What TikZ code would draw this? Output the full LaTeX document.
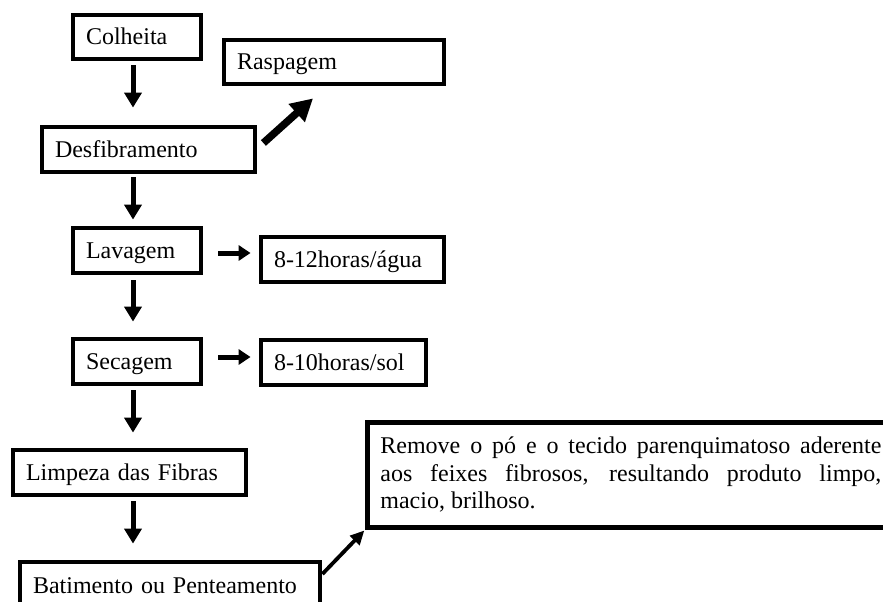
\documentclass[tikz,border=0pt]{standalone}
\usepackage{fontspec}
\setmainfont{Liberation Serif}
\usetikzlibrary{arrows.meta}
\begin{document}
\begin{tikzpicture}[x=1pt,y=-1pt,
  stage/.style={draw, line width=4.8pt, inner xsep=13pt, inner ysep=0pt,
    align=left, text height=16pt, text depth=0pt,
    font=\fontsize{24pt}{27pt}\selectfont},
  flow/.style={line width=5pt, -{Triangle[length=15pt,width=17pt]}},
  side/.style={line width=5pt, -{Triangle[length=12pt,width=15pt]}},
  bigarrow/.style={line width=7.5pt, -{Triangle[length=22pt,width=23pt]}},
  thinarrow/.style={line width=3.8pt, -{Triangle[length=14pt,width=13pt]}}]

\useasboundingbox (0,0) rectangle (883,602);
\fill[white] (0,0) rectangle (883,602);

% main process steps
\node[stage, text width=102pt, minimum height=44pt] (colheita) at (137,37) {Colheita};
\node[stage, text width=194pt, minimum height=44pt] (raspagem) at (334,62) {Raspagem};
\node[stage, text width=187pt, minimum height=45pt] (desfib) at (148.5,149.5) {Desfibramento};
\node[stage, text width=102pt, minimum height=45pt] (lavagem) at (137,250.5) {Lavagem};
\node[stage, text width=157pt, minimum height=45pt] (agua) at (352.5,259.5) {8-12horas/água};
\node[stage, text width=102pt, minimum height=45pt] (secagem) at (137,361.5) {Secagem};
\node[stage, text width=139pt, minimum height=45pt] (sol) at (343.5,362.5) {8-10horas/sol};
\node[stage, text width=207pt, minimum height=45pt] (limpeza) at (129.5,472.5) {Limpeza das Fibras};
\node[stage, text width=274pt, minimum height=46pt] (batimento) at (170,585) {Batimento ou Penteamento};

% description of the beating step
\node[draw, line width=4.8pt, anchor=north west, inner xsep=13pt, inner ysep=0pt,
  minimum height=105pt, text width=501pt, align=justify,
  font=\fontsize{24pt}{27.5pt}\selectfont] (remove) at (365,420)
  {Remove o pó e o tecido parenquimatoso aderente\linebreak
   aos feixes fibrosos, resultando produto limpo,\linebreak
   macio, brilhoso.};

% vertical axis of the main flow
\coordinate (axis) at (133,0);

\draw[flow, shorten <=4pt, shorten >=17pt] (colheita.south -| axis) -- (desfib.north -| axis);
\draw[flow, shorten <=3pt, shorten >=6pt] (desfib.south -| axis) -- (lavagem.north -| axis);
\draw[flow, shorten <=5pt, shorten >=15pt] (lavagem.south -| axis) -- (secagem.north -| axis);
\draw[flow, shorten <=4pt, shorten >=15pt] (secagem.south -| axis) -- (limpeza.north -| axis);
\draw[flow, shorten <=4pt, shorten >=16pt] (limpeza.south -| axis) -- (batimento.north -| axis);

% side branches
\draw[bigarrow] ([xshift=6pt,yshift=6.5pt]desfib.east) -- ([xshift=-21pt,yshift=-12pt]raspagem.south);
\draw[side, shorten <=15pt, shorten >=8pt] ([yshift=-2.5pt]lavagem.east) -- ([yshift=-2.5pt]lavagem.east -| agua.west);
\draw[side, shorten <=15pt, shorten >=8pt] ([yshift=4.5pt]secagem.east) -- ([yshift=4.5pt]secagem.east -| sol.west);
\draw[thinarrow, shorten >=1pt] ([yshift=11pt]batimento.east) -- (remove.south west);

\end{tikzpicture}
\end{document}
